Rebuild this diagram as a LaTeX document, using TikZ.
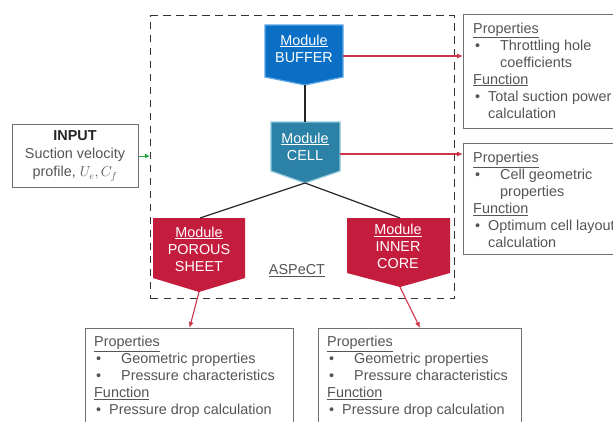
\documentclass[tikz,border=0pt]{standalone}
\usepackage{fontspec}
\setmainfont{Liberation Sans}
\usetikzlibrary{arrows.meta}
\definecolor{txtgrey}{HTML}{555555}
\definecolor{boxgrey}{HTML}{707070}
\definecolor{bufblue}{HTML}{0B6FC6}
\definecolor{bufedge}{HTML}{5AA6E6}
\definecolor{cellteal}{HTML}{2B82A6}
\definecolor{celledge}{HTML}{8CC8DC}
\definecolor{modred}{HTML}{C41C3D}
\definecolor{arrred}{HTML}{CC3548}
\definecolor{arrgreen}{HTML}{22A83A}
\newcommand\bA{\hspace*{2pt}\makebox[25pt][l]{\textbullet}}
\newcommand\bB{\hspace*{2pt}\makebox[13pt][l]{\textbullet}}
\begin{document}
\begin{tikzpicture}[x=1pt,y=-1pt,
  infobox/.style={draw=boxgrey, line width=1.1pt, inner sep=0pt, anchor=north west},
  infotext/.style={anchor=west, align=left, inner sep=0pt, text=txtgrey, font=\fontsize{14.4}{17}\selectfont},
  modtext/.style={align=center, inner sep=0pt, text=white, font=\fontsize{14.4}{17}\selectfont},
  redarrow/.style={draw=arrred, line width=1.1pt, -{Latex[length=6pt,width=5pt]}},
  greenarrow/.style={draw=arrgreen, line width=1.1pt, -{Latex[length=5pt,width=5pt]}},
  link/.style={draw=black!85, line width=1.2pt}]
\clip (0,0) rectangle (613,421);
\fill[white] (0,0) rectangle (613,421);

% ASPeCT dashed frame
\node[draw=black!80, dash pattern=on 7.5pt off 5.5pt, line width=1.4pt, inner sep=0pt,
      anchor=north west, minimum width=304pt, minimum height=283pt] (aspect) at (150,15) {};
\node[text=txtgrey, inner sep=0pt, font=\fontsize{14.4}{17}\selectfont] (aspectlbl) at (297,271) {\underline{ASPeCT}};

% Input box
\node[infobox, minimum width=126pt, minimum height=63pt] (input) at (12,124) {};
\node[align=center, inner sep=0pt, text=txtgrey, font=\fontsize{14.4}{18}\selectfont] (inputtxt) at (75,156)
  {\textcolor{black!85}{\textbf{INPUT}}\\Suction velocity\\profile, $U_e, C_f$};

% Module shapes
\fill[bufblue, draw=bufedge, line width=1.2pt] (265,25) -- (343,25) -- (343,77) -- (305,85) -- (265,77) -- cycle;
\fill[cellteal, draw=celledge, line width=1.2pt] (271,122) -- (340,122) -- (340,171) -- (305,183) -- (271,171) -- cycle;
\fill[modred] (153,218) -- (245,218) -- (245,278) -- (199,292) -- (153,278) -- cycle;
\fill[modred] (347,218) -- (450,218) -- (450,273) -- (400,287) -- (347,273) -- cycle;

\coordinate (bufTip) at (305,85);
\coordinate (bufR) at (343,56);
\coordinate (cellTop) at (305,122);
\coordinate (cellTip) at (305,183);
\coordinate (cellR) at (340,154);
\coordinate (porTop) at (200,218);
\coordinate (porTip) at (199,292);
\coordinate (innTop) at (400,218);
\coordinate (innTip) at (400,287);

\node[modtext] (buftxt) at (304,48.5) {\underline{Module}\\BUFFER};
\node[modtext] (celltxt) at (305,146.5) {\underline{Module}\\CELL};
\node[modtext] (portxt) at (199,249) {\underline{Module}\\POROUS\\SHEET};
\node[modtext] (inntxt) at (398,246.5) {\underline{Module}\\INNER\\CORE};

% Info boxes
\node[infobox, minimum width=160pt, minimum height=114pt] (pbuf) at (463,14) {};
\node[infobox, minimum width=160pt, minimum height=111pt] (pcell) at (463,143) {};
\node[infobox, minimum width=208pt, minimum height=100pt] (ppor) at (85,328) {};
\node[infobox, minimum width=203pt, minimum height=100pt] (pinn) at (318,328) {};

\node[infotext] (pbuftxt) at (473,70.5) {\underline{Properties}\\
  \bA Throttling hole\\
  \hspace*{27pt}coefficients\\
  \underline{Function}\\
  \bB Total suction power\\
  \hspace*{15pt}calculation};
\node[infotext] (pcelltxt) at (473,200) {\underline{Properties}\\
  \bA Cell geometric\\
  \hspace*{27pt}properties\\
  \underline{Function}\\
  \bB Optimum cell layout\\
  \hspace*{15pt}calculation};
\node[infotext] (portxt2) at (94,377) {\underline{Properties}\\
  \bA Geometric properties\\
  \bA Pressure characteristics\\
  \underline{Function}\\
  \bB Pressure drop calculation};
\node[infotext] (inntxt2) at (327,377) {\underline{Properties}\\
  \bA Geometric properties\\
  \bA Pressure characteristics\\
  \underline{Function}\\
  \bB Pressure drop calculation};

% Connectors
\draw[link] (bufTip) -- (cellTop);
\draw[link] (cellTip) -- (porTop);
\draw[link] (cellTip) -- (innTop);
\draw[redarrow] (bufR) -- (pbuf.west |- bufR);
\draw[redarrow] (cellR) -- (pcell.west |- cellR);
\draw[redarrow] (porTip) -- (ppor.north);
\draw[redarrow] (innTip) -- (pinn.north);
\draw[greenarrow] (input.east) -- (input.east -| aspect.west);
\end{tikzpicture}
\end{document}
